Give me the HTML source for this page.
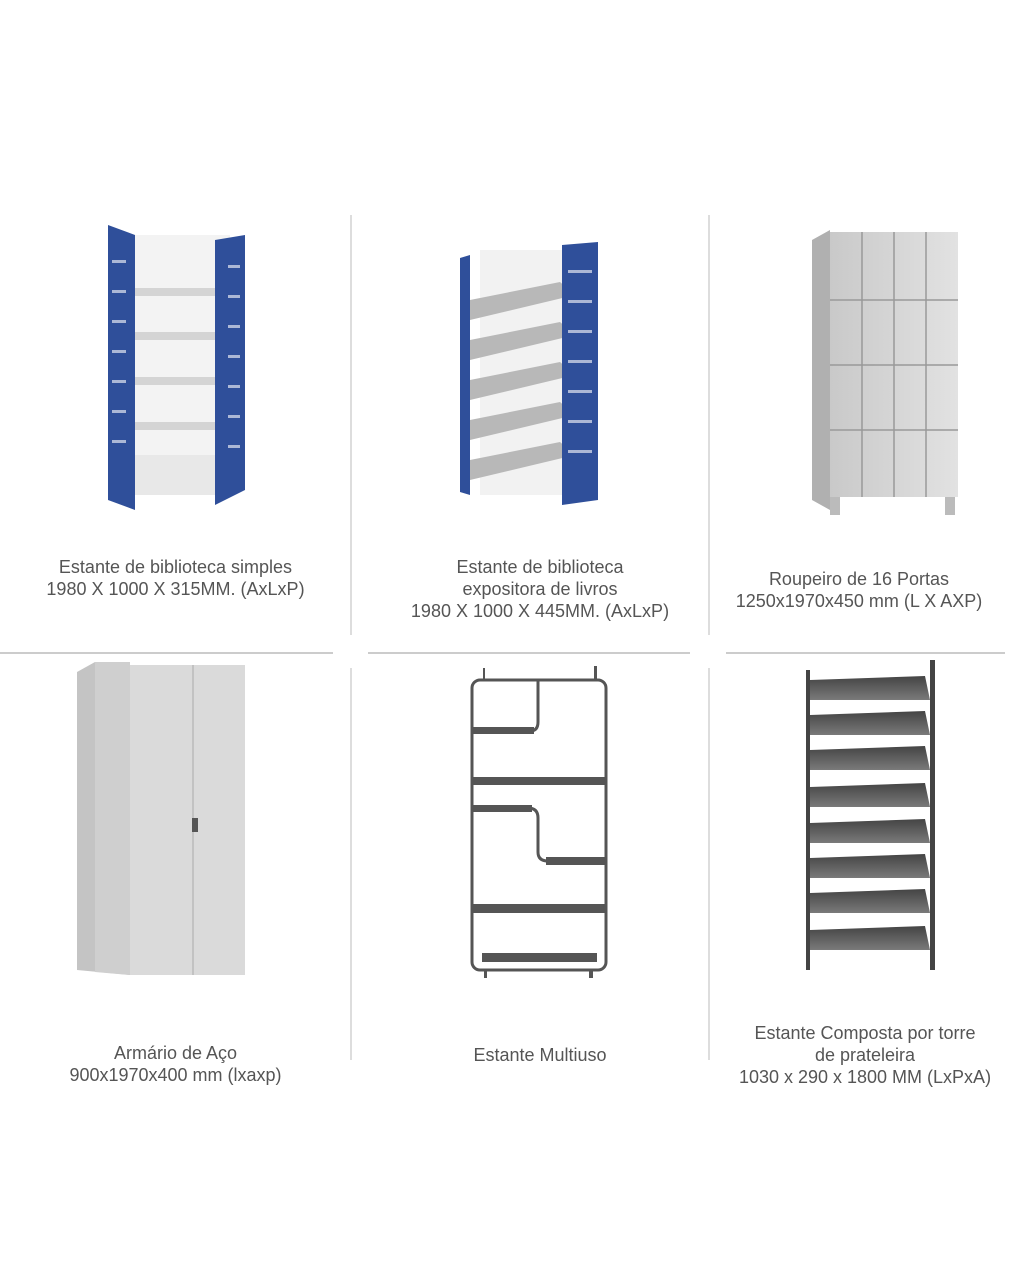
<!DOCTYPE html>
<html><head><meta charset="utf-8"><style>
html,body{margin:0;padding:0;background:#fff;}
body{width:1024px;height:1280px;position:relative;overflow:hidden;font-family:"Liberation Sans",sans-serif;}
.t{position:absolute;text-align:center;color:#555;font-size:18px;line-height:22px;}
svg{position:absolute;left:0;top:0;}
</style></head><body>
<svg width="1024" height="1280" viewBox="0 0 1024 1280">
<defs>
<linearGradient id="g1" x1="0" x2="1"><stop offset="0" stop-color="#c9c9c9"/><stop offset="1" stop-color="#e2e2e2"/></linearGradient>
<linearGradient id="g2" x1="0" x2="0" y1="0" y2="1"><stop offset="0" stop-color="#444"/><stop offset="1" stop-color="#7a7a7a"/></linearGradient>
</defs>
<g stroke="#ddd" stroke-width="2">
<line x1="351" y1="215" x2="351" y2="635"/><line x1="709" y1="215" x2="709" y2="635"/>
<line x1="351" y1="668" x2="351" y2="1060"/><line x1="709" y1="668" x2="709" y2="1060"/>
</g>
<g stroke="#ccc" stroke-width="2">
<line x1="0" y1="653" x2="333" y2="653"/><line x1="368" y1="653" x2="690" y2="653"/><line x1="726" y1="653" x2="1005" y2="653"/>
</g>
<g>
<rect x="130" y="235" width="100" height="250" fill="#f3f3f3"/>
<rect x="130" y="455" width="100" height="40" fill="#e8e8e8"/>
<g fill="#d4d4d4"><rect x="130" y="288" width="105" height="8"/><rect x="130" y="332" width="105" height="8"/><rect x="130" y="377" width="105" height="8"/><rect x="130" y="422" width="105" height="8"/></g>
<polygon points="108,225 135,235 135,510 108,500" fill="#2f4f9a"/>
<polygon points="215,240 245,235 245,490 215,505" fill="#2f4f9a"/>
<g fill="#fff" opacity="0.6"><rect x="112" y="260" width="14" height="3"/><rect x="112" y="290" width="14" height="3"/><rect x="112" y="320" width="14" height="3"/><rect x="112" y="350" width="14" height="3"/><rect x="112" y="380" width="14" height="3"/><rect x="112" y="410" width="14" height="3"/><rect x="112" y="440" width="14" height="3"/>
<rect x="228" y="265" width="12" height="3"/><rect x="228" y="295" width="12" height="3"/><rect x="228" y="325" width="12" height="3"/><rect x="228" y="355" width="12" height="3"/><rect x="228" y="385" width="12" height="3"/><rect x="228" y="415" width="12" height="3"/><rect x="228" y="445" width="12" height="3"/></g>
</g>
<g>
<rect x="480" y="250" width="90" height="245" fill="#f2f2f2"/>
<g fill="#b8b8b8"><polygon points="470,300 560,282 575,295 470,320"/><polygon points="470,340 560,322 575,335 470,360"/><polygon points="470,380 560,362 575,375 470,400"/><polygon points="470,420 560,402 575,415 470,440"/><polygon points="470,460 560,442 575,455 470,480"/></g>
<polygon points="460,258 470,255 470,495 460,492" fill="#2f4f9a"/>
<polygon points="562,245 598,242 598,500 562,505" fill="#2f4f9a"/>
<g fill="#fff" opacity="0.6"><rect x="568" y="270" width="24" height="3"/><rect x="568" y="300" width="24" height="3"/><rect x="568" y="330" width="24" height="3"/><rect x="568" y="360" width="24" height="3"/><rect x="568" y="390" width="24" height="3"/><rect x="568" y="420" width="24" height="3"/><rect x="568" y="450" width="24" height="3"/></g>
</g>
<g>
<polygon points="812,240 830,230 830,510 812,500" fill="#b0b0b0"/>
<rect x="830" y="232" width="128" height="265" fill="url(#g1)"/>
<g stroke="#999" stroke-width="1.5"><line x1="862" y1="232" x2="862" y2="497"/><line x1="894" y1="232" x2="894" y2="497"/><line x1="926" y1="232" x2="926" y2="497"/>
<line x1="830" y1="300" x2="958" y2="300"/><line x1="830" y1="365" x2="958" y2="365"/><line x1="830" y1="430" x2="958" y2="430"/></g>
<rect x="830" y="497" width="10" height="18" fill="#bbb"/><rect x="945" y="497" width="10" height="18" fill="#bbb"/>
</g>
<g>
<polygon points="77,672 95,662 130,662 130,975 77,970" fill="#c4c4c4"/>
<rect x="130" y="665" width="115" height="310" fill="#dadada"/>
<polygon points="95,662 130,662 130,975 95,972" fill="#cfcfcf"/>
<line x1="193" y1="665" x2="193" y2="975" stroke="#aaa"/>
<rect x="192" y="818" width="6" height="14" fill="#555"/>
</g>
<g fill="none" stroke="#555" stroke-width="3">
<rect x="472" y="680" width="134" height="290" rx="8"/>
<path d="M538 680 V722 Q538 731 530 731 H472"/>
<path d="M472 808 H528 Q538 808 538 818 V852 Q538 861 548 861 H606"/>
</g>
<g fill="#555"><rect x="472" y="727" width="62" height="7"/><rect x="472" y="777" width="134" height="8"/><rect x="472" y="805" width="60" height="7"/><rect x="546" y="857" width="60" height="8"/><rect x="472" y="904" width="134" height="9"/><rect x="482" y="953" width="115" height="9"/>
<rect x="483" y="668" width="2" height="12"/><rect x="594" y="666" width="3" height="14"/><rect x="484" y="970" width="3" height="8"/><rect x="589" y="970" width="4" height="8"/></g>
<g>
<rect x="806" y="670" width="4" height="300" fill="#444"/><rect x="930" y="660" width="5" height="310" fill="#444"/>
<g fill="url(#g2)"><polygon points="810,680 925,676 930,700 810,700"/><polygon points="810,715 925,711 930,735 810,735"/><polygon points="810,750 925,746 930,770 810,770"/><polygon points="810,787 925,783 930,807 810,807"/><polygon points="810,823 925,819 930,843 810,843"/><polygon points="810,858 925,854 930,878 810,878"/><polygon points="810,893 925,889 930,913 810,913"/><polygon points="810,930 925,926 930,950 810,950"/></g>
</g>
</svg>
<div class="t" style="left:0;width:351px;top:556px;">Estante de biblioteca simples<br>1980 X 1000 X 315MM. (AxLxP)</div>
<div class="t" style="left:365px;width:350px;top:556px;">Estante de biblioteca<br>expositora de livros<br>1980 X 1000 X 445MM. (AxLxP)</div>
<div class="t" style="left:709px;width:300px;top:568px;">Roupeiro de 16 Portas<br>1250x1970x450 mm (L X AXP)</div>
<div class="t" style="left:0;width:351px;top:1042px;">Armário de Aço<br>900x1970x400 mm (lxaxp)</div>
<div class="t" style="left:365px;width:350px;top:1044px;">Estante Multiuso</div>
<div class="t" style="left:715px;width:300px;top:1022px;">Estante Composta por torre<br>de prateleira<br>1030 x 290 x 1800 MM (LxPxA)</div>
</body></html>
